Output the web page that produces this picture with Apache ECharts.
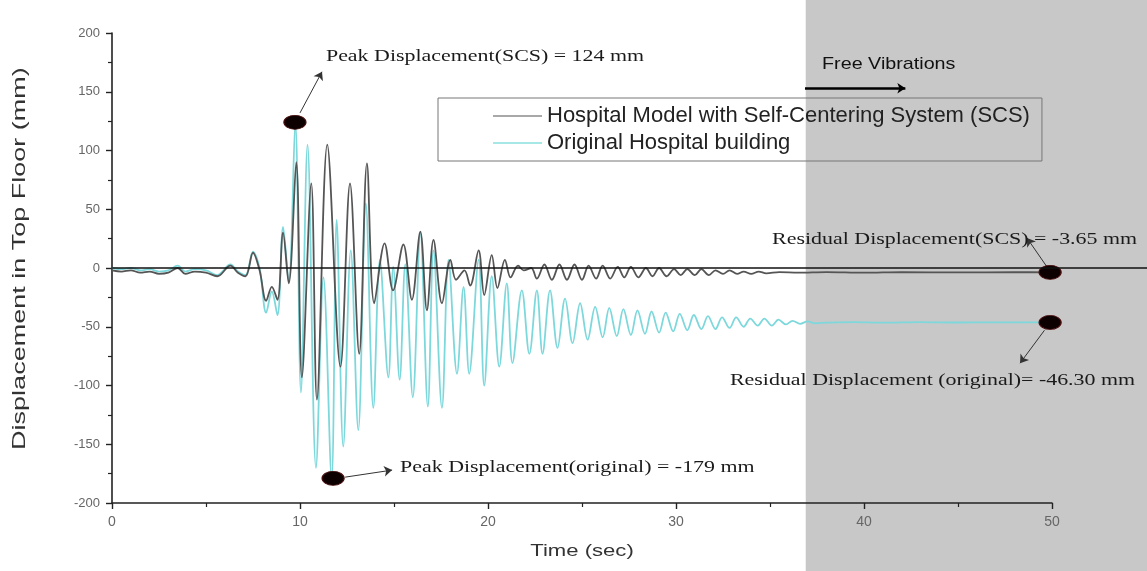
<!DOCTYPE html>
<html>
<head>
<meta charset="utf-8">
<script src="https://cdn.jsdelivr.net/npm/echarts@6/dist/echarts.min.js"></script>
<style>
  html, body { margin: 0; padding: 0; background: #fff; }
  #main { width: 1147px; height: 571px; }
</style>
</head>
<body>
<div id="main"></div>
<script>
// values: [time (s), displacement (mm)]
const scsPoints = [
  [0, -2], [0.5, -3], [1.0, -2], [1.5, -4], [2.0, -3], [2.5, -5], [3.0, -4], [3.5, 0],
  [3.9, -5], [4.4, -3], [5.0, -4], [5.6, -7], [6.3, 2], [6.7, -4], [7.1, -7], [7.5, 13],
  [7.85, -2], [8.2, -28], [8.5, -16], [8.8, -27], [9.1, 30], [9.4, -13], [9.8, 90],
  [10.1, -93], [10.6, 72], [10.9, -112], [11.45, 105], [12.15, -84], [12.66, 72],
  [13.15, -73], [13.56, 89], [13.95, -30], [14.5, 21], [14.95, -19], [15.5, 20],
  [15.95, -27], [16.4, 31], [16.75, -36], [17.1, 24], [17.55, -30], [18.0, 7],
  [18.3, -10], [18.75, -2], [19.05, -15], [19.5, 15], [19.8, -23], [20.2, 11],
  [20.5, -17], [20.9, 7], [21.2, -8], [21.6, 2], [21.9, -2], [22.3, 0], [22.6, -9],
  [23.0, 3], [23.4, -10], [23.8, 3], [24.2, -10], [24.6, 3], [25.0, -10], [25.35, 2],
  [25.75, -9], [26.1, 2], [26.5, -9], [26.9, 1], [27.25, -8], [27.6, 1], [28.0, -8],
  [28.4, 0], [28.75, -7], [29.1, 0], [29.5, -7], [29.9, -1], [30.25, -6], [30.6, -1],
  [31.0, -6], [31.35, -1], [31.75, -6], [32.1, -2], [32.5, -5], [32.85, -2], [33.25, -5],
  [33.6, -3], [34.0, -5], [34.4, -3], [34.8, -4.5], [35.5, -3.5], [36.5, -4], [38, -3.5],
  [40, -4], [42, -3.5], [45, -3.8], [48, -3.6], [50, -3.65]
];

const origPoints = [
  [0, 0], [0.5, -1], [1.0, 0], [1.5, -2], [2.0, -1], [2.5, -3], [3.0, -2], [3.5, 2],
  [3.9, -3], [4.4, -1], [5.0, -2], [5.6, -6], [6.3, 3], [6.7, -3], [7.1, -6], [7.5, 14],
  [7.85, 0], [8.2, -38], [8.5, -20], [8.8, -40], [9.1, 35], [9.4, -12], [9.75, 124],
  [10.05, -106], [10.4, 105], [10.85, -170], [11.25, -8], [11.68, -179], [11.95, 41],
  [12.3, -152], [12.7, 15], [13.1, -138], [13.5, 55], [13.9, -119], [14.25, 7],
  [14.7, -93], [14.96, 1], [15.3, -95], [15.6, 3], [16.0, -110], [16.4, 30], [16.8, -118],
  [17.1, 15], [17.55, -119], [17.9, 7], [18.35, -90], [18.7, -16], [19.0, -90], [19.5, 7],
  [19.8, -100], [20.2, -7], [20.6, -84], [21.0, -13], [21.3, -81], [21.8, -19],
  [22.2, -73], [22.6, -19], [22.9, -73], [23.3, -19], [23.7, -68], [24.1, -26],
  [24.5, -64], [24.9, -30], [25.3, -61], [25.7, -33], [26.1, -59], [26.45, -34],
  [26.85, -58], [27.2, -35], [27.6, -57], [27.95, -36], [28.35, -56], [28.7, -37],
  [29.1, -55], [29.45, -38], [29.85, -54], [30.2, -39], [30.6, -53], [30.95, -40],
  [31.35, -52], [31.7, -41], [32.1, -52], [32.45, -42], [32.85, -51], [33.2, -42],
  [33.6, -50], [33.95, -43], [34.35, -49], [34.7, -43], [35.1, -49], [35.45, -44],
  [35.85, -48], [36.2, -45], [36.6, -47.5], [37.0, -45.5], [37.4, -47], [38.0, -46.5],
  [39.5, -46], [41, -46.5], [43, -46], [45, -46.4], [47, -46.2], [50, -46.3]
];

// highlighted points (peaks and residuals)
const markerPoints = [[9.73, 124], [11.76, -179], [49.9, -3.65], [49.9, -46.3]];

const seriesNames = ['Hospital Model with Self-Centering System (SCS)', 'Original Hospital building'];
const freeVibStart = 36.9;

const chart = echarts.init(document.getElementById('main'));

const option = {
  animation: false,
  grid: { left: 112, right: 95, top: 33, bottom: 68 },
  legend: {
    data: [
      { name: seriesNames[0], itemStyle: { color: '#a8a8a8' } },
      { name: seriesNames[1], itemStyle: { color: '#a6e8e6' } }
    ],
    orient: 'vertical',
    left: 438,
    top: 98,
    padding: [7, 12, 7, 55],
    itemGap: 5,
    itemWidth: 49,
    itemHeight: 2,
    icon: 'rect',
    borderColor: '#777',
    borderWidth: 1,
    backgroundColor: 'transparent',
    textStyle: { fontFamily: 'Liberation Sans', fontSize: 22, color: '#222' }
  },
  xAxis: {
    type: 'value',
    min: 0, max: 50, interval: 10,
    axisLine: { onZero: false, lineStyle: { color: '#222', width: 1.6 } },
    axisTick: { length: 6, lineStyle: { color: '#222', width: 1.4 } },
    minorTick: { show: true, splitNumber: 2, length: 4, lineStyle: { color: '#222', width: 1.2 } },
    axisLabel: { margin: 12, fontFamily: 'Liberation Sans', fontSize: 14, color: '#666' },
    splitLine: { show: false }
  },
  yAxis: {
    type: 'value',
    min: -200, max: 200, interval: 50,
    axisLine: { onZero: false, lineStyle: { color: '#222', width: 1.6 } },
    axisTick: { length: 6, lineStyle: { color: '#222', width: 1.4 } },
    minorTick: { show: true, splitNumber: 2, length: 4, lineStyle: { color: '#222', width: 1.2 } },
    axisLabel: { margin: 12, fontFamily: 'Liberation Sans', fontSize: 13, color: '#666' },
    splitLine: { show: false }
  },
  series: [
    {
      name: seriesNames[1],
      type: 'line',
      data: origPoints,
      showSymbol: false,
      smooth: 0.35,
      itemStyle: { color: '#93e3e3' },
      lineStyle: { color: '#7dd8dc', width: 1.8 },
      z: 2
    },
    {
      name: seriesNames[0],
      type: 'line',
      data: scsPoints,
      showSymbol: false,
      smooth: 0.35,
      itemStyle: { color: '#9a9a9a' },
      lineStyle: { color: '#555', width: 1.8 },
      z: 3
    },
    {
      name: 'markers',
      type: 'scatter',
      data: markerPoints,
      symbol: 'circle',
      symbolSize: [22, 14],
      clip: false,
      itemStyle: { color: '#0d0000', opacity: 1, borderColor: '#4a0c0c', borderWidth: 1 },
      z: 5,
      markLine: {
        silent: true,
        symbol: ['none', 'arrow'],
        symbolSize: 8,
        label: { show: false },
        lineStyle: { color: '#333', type: 'solid', width: 1 },
        data: [
          [{ coord: [10.0, 132] }, { coord: [11.17, 167] }],
          [{ coord: [12.4, -178] }, { coord: [14.9, -172] }],
          [{ coord: [49.73, 1] }, { coord: [48.67, 25.5] }],
          [{ coord: [49.6, -53] }, { coord: [48.3, -81] }],
          [{ coord: [36.86, 153], lineStyle: { color: '#000', width: 2.5 } },
           { coord: [42.2, 153] }]
        ]
      }
    }
  ]
};

chart.setOption(option);

// shading, zero line, axis titles and annotation texts placed from data coordinates
const W = chart.getWidth();
const H = chart.getHeight();
const px = (t, v) => chart.convertToPixel({ gridIndex: 0 }, [t, v]);
const zero = px(0, 0);
const shadeX = px(freeVibStart, 0)[0];
const m3 = px(markerPoints[2][0], markerPoints[2][1]);
const m4 = px(markerPoints[3][0], markerPoints[3][1]);
const p1 = px(11.38, 180);
const p2 = px(15.32, -170);
const fv = px(37.77, 173);
const xMid = px(25, -200);
const yMid = px(0, 8);

const serif = { fontFamily: 'Liberation Serif', fontSize: 17, fill: '#1a1a1a' };
const stretch = 1.29;

chart.setOption({
  graphic: [
    { type: 'rect', z: -1, silent: true,
      shape: { x: shadeX, y: 0, width: W - shadeX, height: H },
      style: { fill: '#c8c8c8' } },
    { type: 'line', z: 10, silent: true,
      shape: { x1: zero[0], y1: zero[1], x2: W, y2: zero[1] },
      style: { stroke: '#111', lineWidth: 1.5 } },
    { type: 'text', z: 10, x: xMid[0], y: xMid[1] + 48, scaleX: 1.3,
      style: { text: 'Time (sec)', fontFamily: 'Liberation Sans', fontSize: 17, fill: '#333',
               align: 'center', verticalAlign: 'middle' } },
    { type: 'text', z: 10, x: 20, y: yMid[1], rotation: Math.PI / 2, scaleX: 1.5,
      style: { text: 'Displacement in Top Floor (mm)', fontFamily: 'Liberation Sans', fontSize: 18,
               fill: '#333', align: 'center', verticalAlign: 'middle' } },
    { type: 'text', z: 10, x: p1[0], y: p1[1], scaleX: stretch,
      style: Object.assign({ text: 'Peak Displacement(SCS) = 124 mm', verticalAlign: 'middle' }, serif) },
    { type: 'text', z: 10, x: p2[0], y: p2[1], scaleX: stretch,
      style: Object.assign({ text: 'Peak Displacement(original) = -179 mm', verticalAlign: 'middle' }, serif) },
    { type: 'text', z: 10, x: m3[0] + 87, y: m3[1] - 33, scaleX: stretch,
      style: Object.assign({ text: 'Residual Displacement(SCS) = -3.65 mm', align: 'right', verticalAlign: 'middle' }, serif) },
    { type: 'text', z: 10, x: m4[0] + 85, y: m4[1] + 58, scaleX: stretch,
      style: Object.assign({ text: 'Residual Displacement (original)= -46.30 mm', align: 'right', verticalAlign: 'middle' }, serif) },
    { type: 'text', z: 10, x: fv[0], y: fv[1], scaleX: 1.16,
      style: { text: 'Free Vibrations', fontFamily: 'Liberation Sans', fontSize: 17, fill: '#111', verticalAlign: 'middle' } }
  ]
});
</script>
</body>
</html>
